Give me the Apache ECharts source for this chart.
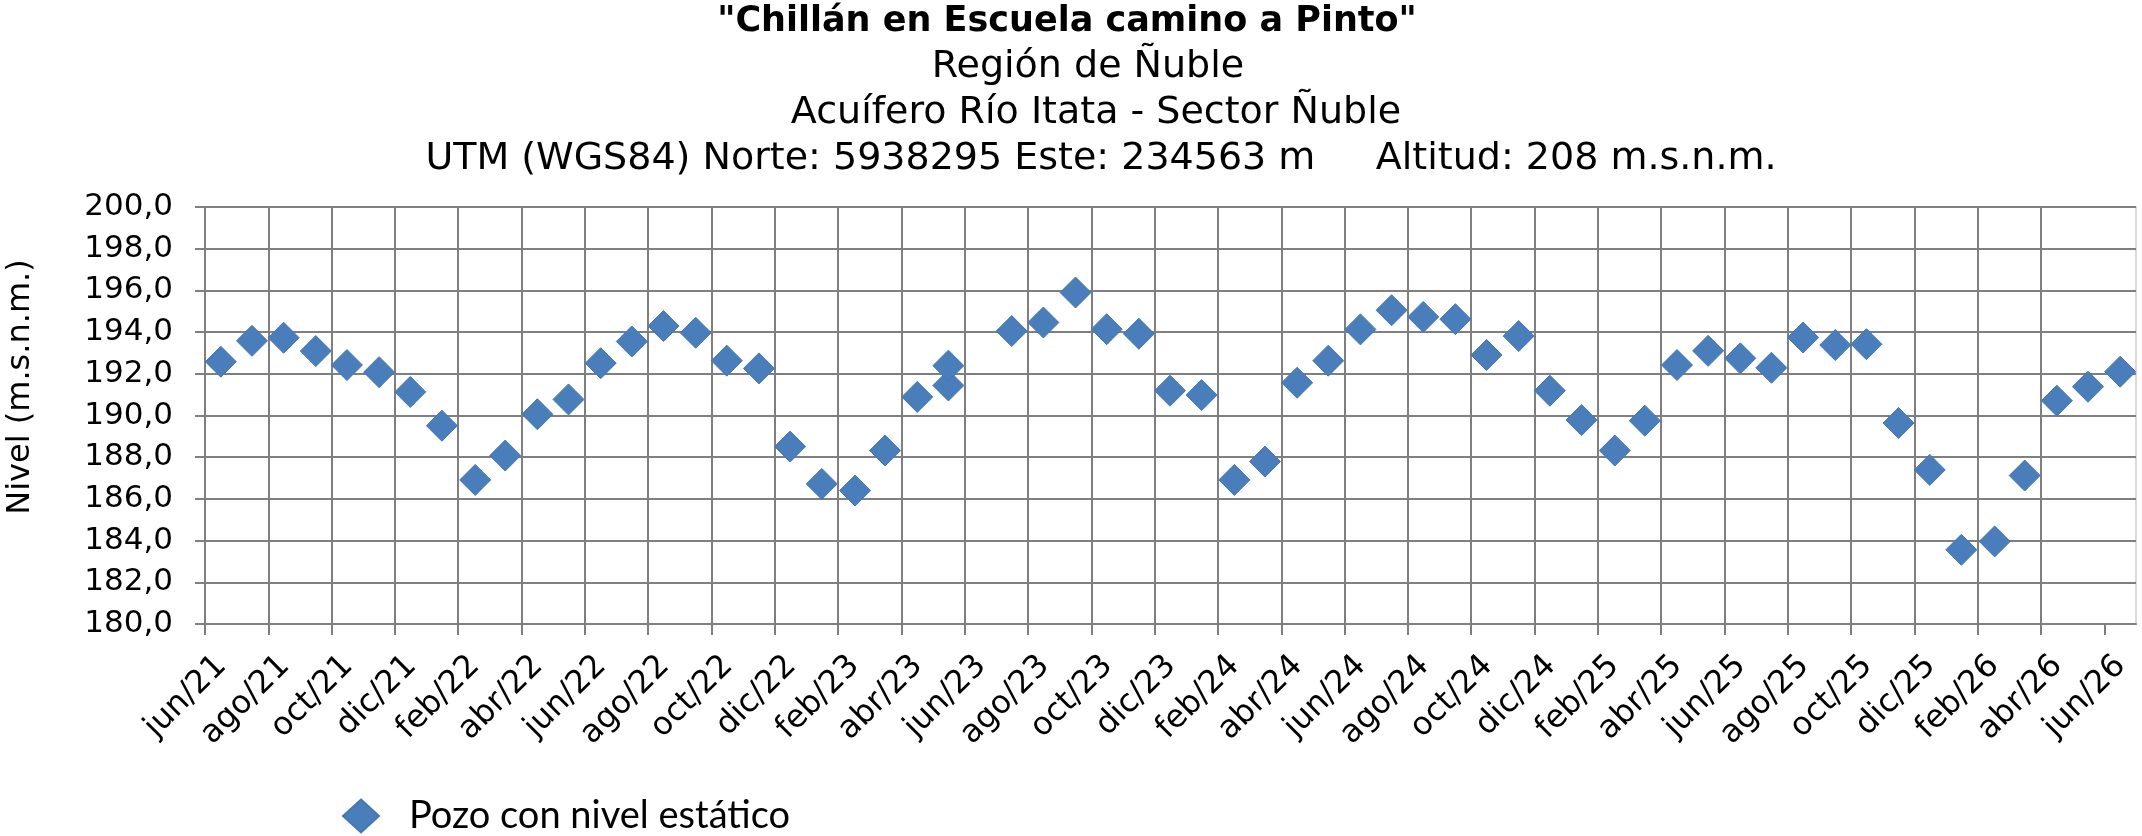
<!DOCTYPE html>
<html>
<head>
<meta charset="utf-8">
<script src="https://cdn.jsdelivr.net/npm/echarts@6/dist/echarts.min.js"></script>
<style>
html,body{margin:0;padding:0;background:#fff;}
#c{width:2142px;height:836px;}
</style>
</head>
<body>
<div id="c"></div>
<script>
// ---- data ----
const titleLines = [
  '"Chillán en Escuela camino a Pinto"',
  'Región de Ñuble',
  'Acuífero Río Itata - Sector Ñuble',
  'UTM (WGS84) Norte: 5938295 Este: 234563 m     Altitud: 208 m.s.n.m.'
];
const yAxisTitle = 'Nivel (m.s.n.m.)';
const seriesName = 'Pozo con nivel estático';

const dates = [
  '2021-06-16','2021-07-16','2021-08-16','2021-09-16','2021-10-16','2021-11-16','2021-12-16',
  '2022-01-16','2022-02-16','2022-03-16','2022-04-16','2022-05-16','2022-06-16','2022-07-16',
  '2022-08-16','2022-09-16','2022-10-16','2022-11-16','2022-12-16',
  '2023-01-16','2023-02-16','2023-03-16','2023-04-16','2023-05-16','2023-05-16',
  '2023-07-16','2023-08-16','2023-09-16','2023-10-16','2023-11-16','2023-12-16',
  '2024-01-16','2024-02-16','2024-03-16','2024-04-16','2024-05-16','2024-06-16','2024-07-16',
  '2024-08-16','2024-09-16','2024-10-16','2024-11-16','2024-12-16',
  '2025-01-16','2025-02-16','2025-03-16','2025-04-16','2025-05-16','2025-06-16','2025-07-16',
  '2025-08-16','2025-09-16','2025-10-16','2025-11-16','2025-12-16',
  '2026-01-16','2026-02-16','2026-03-16','2026-04-16','2026-05-16','2026-06-16'
];
const levels = [
  192.58,193.58,193.73,193.09,192.42,192.08,191.13,
  189.51,186.91,188.08,190.06,190.77,192.51,193.55,
  194.29,193.97,192.63,192.26,188.51,
  186.72,186.40,188.32,190.89,191.44,192.39,
  194.05,194.46,195.90,194.14,193.92,191.19,
  190.98,186.91,187.79,191.57,192.63,194.13,195.05,
  194.73,194.62,192.90,193.81,191.19,
  189.78,188.32,189.75,192.42,193.10,192.74,192.29,
  193.74,193.38,193.42,189.64,187.39,
  183.56,183.96,187.12,190.71,191.38,192.10
];

const xTickLabels = [
  'jun/21','ago/21','oct/21','dic/21','feb/22','abr/22','jun/22','ago/22','oct/22','dic/22',
  'feb/23','abr/23','jun/23','ago/23','oct/23','dic/23','feb/24','abr/24','jun/24','ago/24',
  'oct/24','dic/24','feb/25','abr/25','jun/25','ago/25','oct/25','dic/25','feb/26','abr/26','jun/26'
];
const axisStart = {year: 2021, month: 6};   // jun/21 = 0
const axisEndMonths = 61;                    // jul/26
const yMin = 180, yMax = 200, yStep = 2;

// ---- helpers ----
function monthIndex(s){
  const [Y,M,D] = s.split('-').map(Number);
  const dim = new Date(Y, M, 0).getDate();
  return (Y - axisStart.year) * 12 + (M - axisStart.month) + (D - 1) / dim;
}
const points = dates.map((d,i) => [monthIndex(d), levels[i]]);
const tickVals = xTickLabels.map((_, i) => i * 2);
const labelShift = 0.52;  // rotated label anchor offset (in months)
const labelVals = tickVals.map(v => v + labelShift);

const FONT = '"DejaVu Sans", Verdana, sans-serif';
const GRID = '#7f7f7f';

const chart = echarts.init(document.getElementById('c'), null, {renderer: 'canvas'});
chart.setOption({
  animation: false,
  backgroundColor: '#fff',
  graphic: [
    {type:'text', x:1067, y:22, style:{text:titleLines[0], fontFamily:FONT, fontSize:35, fontWeight:'bold', fill:'#000', align:'center', verticalAlign:'middle'}},
    {type:'text', x:1088, y:67, style:{text:titleLines[1], fontFamily:FONT, fontSize:38, fill:'#000', align:'center', verticalAlign:'middle'}},
    {type:'text', x:1096, y:113, style:{text:titleLines[2], fontFamily:FONT, fontSize:38, fill:'#000', align:'center', verticalAlign:'middle'}},
    {type:'text', x:1101, y:159, style:{text:titleLines[3], fontFamily:FONT, fontSize:38, fill:'#000', align:'center', verticalAlign:'middle'}},
    {type:'text', x:21, y:387, rotation:Math.PI/2, style:{text:yAxisTitle, fontFamily:FONT, fontSize:32, fill:'#000', align:'center', verticalAlign:'middle'}}
  ],
  legend: {
    left: 342, top: 797, padding: 0,
    icon: 'diamond', itemWidth: 36, itemHeight: 33,
    textStyle: {fontFamily:'Lato, "Open Sans", sans-serif', fontSize:38, color:'#000', padding:[0,0,0,25]},
    data: [seriesName]
  },
  grid: {left:205, right:6, top:207, bottom:212, show:true, borderColor:'#d9d9d9', borderWidth:2, backgroundColor:'#fff'},
  xAxis: {
    type: 'value', min: 0, max: axisEndMonths, interval: 2,
    axisLine: {show:true, lineStyle:{color:GRID, width:2}},
    axisTick: {show:true, length:11, lineStyle:{color:GRID, width:2}, customValues: tickVals},
    splitLine: {show:true, showMaxLine:false, lineStyle:{color:GRID, width:2}},
    axisLabel: {
      rotate: 45, margin: 37, fontFamily: FONT, fontSize: 32, color: '#000',
      customValues: labelVals,
      formatter: v => xTickLabels[Math.round((v - labelShift) / 2)] || ''
    }
  },
  yAxis: {
    type: 'value', min: yMin, max: yMax, interval: yStep,
    axisLine: {show:true, lineStyle:{color:GRID, width:2}},
    axisTick: {show:true, length:10, lineStyle:{color:GRID, width:2}},
    splitLine: {show:true, lineStyle:{color:GRID, width:2}},
    axisLabel: {margin: 32, fontFamily: FONT, fontSize: 31, color: '#000',
      formatter: v => v.toFixed(1).replace('.', ',')}
  },
  series: [{
    name: seriesName, type: 'scatter', data: points,
    symbol: 'diamond', symbolSize: 31,
    itemStyle: {color: '#4a7ebb', borderColor:'#4677b5', borderWidth:1, opacity:1}
  }]
});
</script>
</body>
</html>
